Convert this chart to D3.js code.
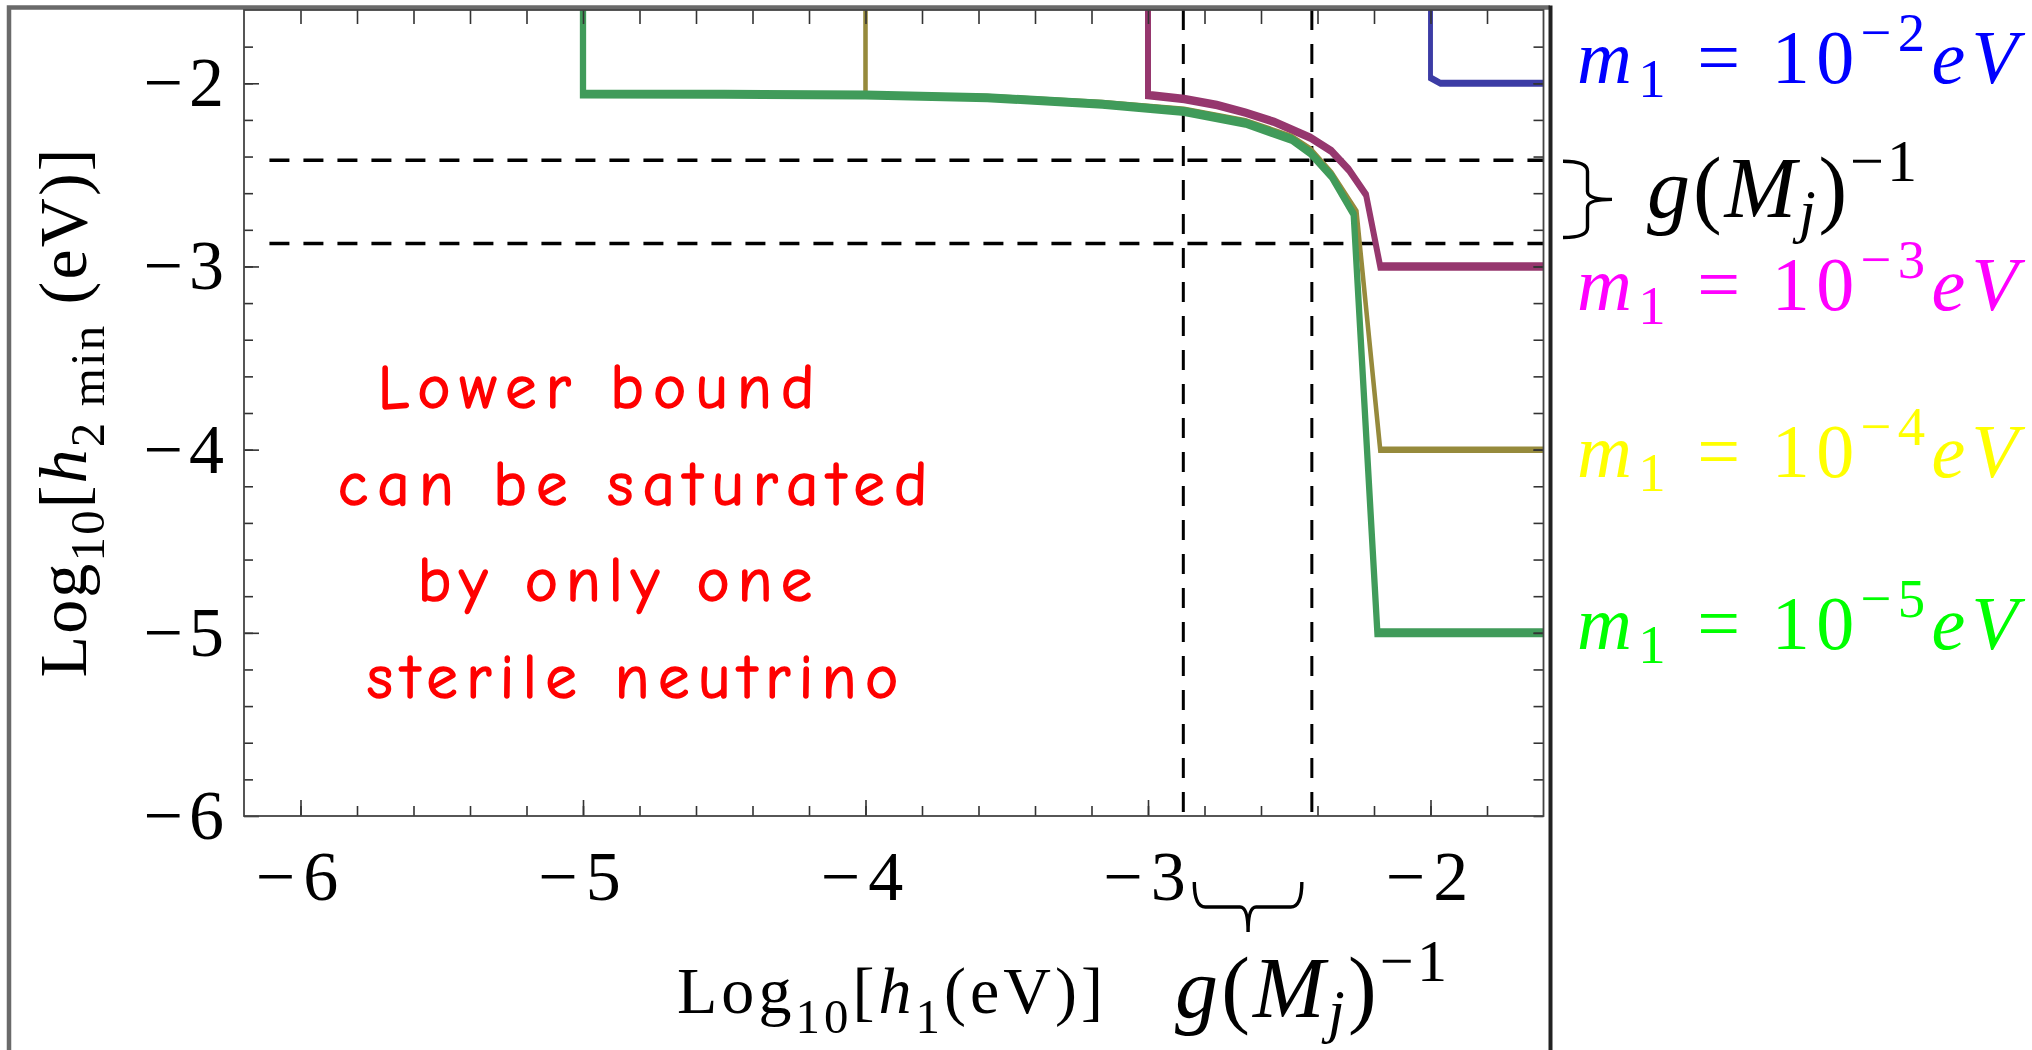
<!DOCTYPE html>
<html><head><meta charset="utf-8">
<script src="https://cdn.jsdelivr.net/npm/d3@7"></script>
<style>
html,body{margin:0;padding:0;background:#fff;}
svg{display:block;}
text{white-space:pre;}
</style></head>
<body><svg id="chart" width="2032" height="1050"></svg>
<script>
// ---------------- data ----------------
const xDomain = [-6.2, -1.6];
const yDomain = [-6, -1.6];
const xMajorTicks = [-6, -5, -4, -3, -2];
const yMajorTicks = [-6, -5, -4, -3, -2];
const xMinorTicks = [-6.0,-5.8,-5.6,-5.4,-5.2,-5.0,-4.8,-4.6,-4.4,-4.2,-4.0,-3.8,-3.6,-3.4,-3.2,-3.0,-2.8,-2.6,-2.4,-2.2,-2.0,-1.8];
const yMinorTicks = [-5.8,-5.6,-5.4,-5.2,-5.0,-4.8,-4.6,-4.4,-4.2,-4.0,-3.8,-3.6,-3.4,-3.2,-3.0,-2.8,-2.6,-2.4,-2.2,-2.0,-1.8];

const massExponents = ["−2", "−3", "−4", "−5"];
const seriesColors = ["#3c3ca5", "#96376e", "#968a3c", "#409b5a"];
const labelColors  = ["#0000ff", "#ff00ff", "#ffff00", "#00ff00"];

// m1 = 1e-2 eV
const blueX = [-2, -2, -1.965, -1.6];
const blueY = [-1.6, -1.97, -2.0, -2.0];
// m1 = 1e-3 eV
const purpleX = [-3, -3, -2.872, -2.756, -2.655, -2.553, -2.425, -2.35, -2.289, -2.228, -2.178, -1.6];
const purpleY = [-1.6, -2.064, -2.086, -2.119, -2.16, -2.211, -2.297, -2.371, -2.472, -2.609, -3.0, -3.0];
// m1 = 1e-4 eV
const oliveX = [-4, -4, -3.569, -3.162, -2.872, -2.655, -2.492, -2.425, -2.35, -2.262, -2.178, -1.6];
const oliveY = [-1.6, -2.062, -2.075, -2.107, -2.145, -2.207, -2.292, -2.361, -2.49, -2.70, -4.0, -4.0];
// m1 = 1e-5 eV
const greenX = [-5, -5, -4.5, -4.0, -3.569, -3.162, -2.872, -2.655, -2.492, -2.425, -2.35, -2.272, -2.188, -1.6];
const greenY = [-1.6, -2.058, -2.06, -2.064, -2.079, -2.114, -2.154, -2.218, -2.306, -2.38, -2.508, -2.715, -5.0, -5.0];

// g(M_j)^-1 band (log10 eV)
const gBand = [-2.875, -2.42];
const gBandStartX = -6.11;

const noteLines = ["Lower bound", "can be saturated", "by only one", "sterile neutrino"];

// ---------------- layout ----------------
const L = 244, R = 1543.5, T = 10, B = 816;
const svg = d3.select("#chart");
const x = d3.scaleLinear().domain(xDomain).range([L, R]);
const y = d3.scaleLinear().domain(yDomain).range([B, T]);

const serif = "'Liberation Serif','Times New Roman',Times,serif";

// outer frame
svg.append("path").attr("d", `M9,1050 V7.5 H1550`).attr("fill","none")
  .attr("stroke","#6a6a6a").attr("stroke-width",4.5);
svg.append("path").attr("d", `M1550.5,5.5 V1050`).attr("fill","none")
  .attr("stroke","#222").attr("stroke-width",4);

// clip
svg.append("clipPath").attr("id","plotclip").append("rect")
  .attr("x",L).attr("y",T).attr("width",R-L).attr("height",B-T);

// dashed reference lines
const dash = svg.append("g").attr("clip-path","url(#plotclip)")
  .attr("stroke","#000").attr("stroke-dasharray","20,14").attr("fill","none");
gBand.forEach(v => {
  dash.append("line").attr("x1", x(gBandStartX)).attr("x2", x(xDomain[1])).attr("y1", y(v)).attr("y2", y(v)).attr("stroke-width",3.6);
  dash.append("line").attr("x1", x(v)).attr("x2", x(v)).attr("y1", y(yDomain[1])).attr("y2", y(yDomain[0])).attr("stroke-width",3);
});

// curves (horizontal strokes a bit heavier than vertical ones, as in the original)
const sx = 0.7;
const zip = (a,b) => a.map((v,i)=>[v,b[i]]);
const series = [zip(blueX,blueY), zip(purpleX,purpleY), zip(oliveX,oliveY), zip(greenX,greenY)];
const widths = [7, 8.5, 6.5, 9];
const line = d3.line().x(d=>x(d[0])/sx).y(d=>y(d[1]));
const curves = svg.append("g").attr("clip-path","url(#plotclip)")
  .append("g").attr("transform",`scale(${sx},1)`);
series.forEach((s,i)=>{
  curves.append("path").attr("d", line(s)).attr("fill","none")
    .attr("stroke", seriesColors[i]).attr("stroke-width", widths[i])
    .attr("stroke-linejoin","miter");
});

// axes
function styleAxis(g){
  g.select(".domain").remove();
  g.selectAll(".tick line").attr("stroke","#333").attr("stroke-width",1.6);
  g.selectAll(".tick text").attr("font-family",serif).attr("fill","#000");
}
svg.append("g").attr("transform",`translate(0,${B})`)
  .call(d3.axisBottom(x).tickValues(xMinorTicks).tickSizeInner(-10).tickSizeOuter(0).tickFormat(""))
  .call(styleAxis);
svg.append("g").attr("transform",`translate(0,${B})`)
  .call(d3.axisBottom(x).tickValues(xMajorTicks).tickSizeInner(-16).tickSizeOuter(0).tickPadding(34).tickFormat(d3.format("d")))
  .call(styleAxis)
  .call(g=>g.selectAll(".tick text").attr("font-size",70).attr("letter-spacing","8px"));
svg.append("g").attr("transform",`translate(0,${T})`)
  .call(d3.axisTop(x).tickValues(xMinorTicks).tickSizeInner(-14).tickSizeOuter(0).tickFormat(""))
  .call(styleAxis);
svg.append("g").attr("transform",`translate(${L},0)`)
  .call(d3.axisLeft(y).tickValues(yMinorTicks).tickSizeInner(-9).tickSizeOuter(0).tickFormat(""))
  .call(styleAxis);
svg.append("g").attr("transform",`translate(${L},0)`)
  .call(d3.axisLeft(y).tickValues(yMajorTicks).tickSizeInner(-15).tickSizeOuter(0).tickPadding(14).tickFormat(d3.format("d")))
  .call(styleAxis)
  .call(g=>g.selectAll(".tick text").attr("font-size",70).attr("letter-spacing","6px"));
svg.append("g").attr("transform",`translate(${R},0)`)
  .call(d3.axisRight(y).tickValues(yMinorTicks.concat(yMajorTicks)).tickSizeInner(-10).tickSizeOuter(0).tickFormat(""))
  .call(styleAxis);

// plot frame
svg.append("rect").attr("x",L).attr("y",T).attr("width",R-L).attr("height",B-T)
  .attr("fill","none").attr("stroke","#444").attr("stroke-width",1.8);

// axis titles
function addPieces(t, pieces, base){
  let cur = 0;
  pieces.forEach(p=>{
    const ts = t.append("tspan").text(p.s);
    const shift = p.shift || 0;
    if (shift !== cur) { ts.attr("dy", shift - cur); cur = shift; }
    if (p.italic) ts.attr("font-style","italic");
    if (p.scale) ts.attr("font-size", base*p.scale);
  });
}
const xt = svg.append("text").attr("x",677).attr("y",1013).attr("font-family",serif)
  .attr("font-size",66).attr("textLength",426).attr("lengthAdjust","spacing");
addPieces(xt, [{s:"Log"},{s:"10",shift:20,scale:0.74},{s:"["},{s:"h",italic:true},{s:"1",shift:20,scale:0.74},{s:"(eV)]"}], 66);

const yt = svg.append("text").attr("transform",`translate(86,${(T+B)/2}) rotate(-90)`)
  .attr("text-anchor","middle").attr("font-family",serif)
  .attr("font-size",68).attr("textLength",529).attr("lengthAdjust","spacing");
addPieces(yt, [{s:"Log"},{s:"10",shift:18,scale:0.72},{s:"["},{s:"h",italic:true},{s:"2 min",shift:18,scale:0.72},{s:" (eV)]"}], 68);

// red note
const noteBase = [408, 505, 601, 698];
const noteX = [378, 338, 418, 367];
const noteW = [436, 589, 394, 531];
noteLines.forEach((s,i)=>{
  svg.append("text").attr("x",noteX[i]).attr("y",noteBase[i])
    .attr("font-family","'Comic Sans MS','Comic Neue','DejaVu Sans',sans-serif")
    .attr("font-size",62).attr("fill","#ff0000").attr("stroke","#ff0000").attr("stroke-width",1.6)
    .attr("stroke-linejoin","round")
    .attr("textLength",noteW[i]).attr("lengthAdjust","spacing").text(s);
});

// legend labels m1 = 10^-k eV beside each series' plateau
const legendBase = [83, 310, 477, 649];
massExponents.forEach((e,i)=>{
  const t = svg.append("text").attr("x",1577).attr("y",legendBase[i]).attr("font-family",serif)
    .attr("font-size",76).attr("fill",labelColors[i]).attr("textLength",441).attr("lengthAdjust","spacing");
  addPieces(t, [{s:"m",italic:true},{s:"1",shift:14,scale:0.72},{s:" = 10"},{s:e,shift:-32,scale:0.72},{s:"eV",italic:true}], 76);
});

// g(Mj)^-1 labels
function gLabel(x0, yb, w){
  const t = svg.append("text").attr("x",x0).attr("y",yb).attr("font-family",serif)
    .attr("font-size",86).attr("fill","#000").attr("textLength",w).attr("lengthAdjust","spacing");
  addPieces(t, [{s:"g",italic:true},{s:"("},{s:"M",italic:true},{s:"j",italic:true,shift:14,scale:0.7},{s:")"},{s:"−1",shift:-36,scale:0.7}], 86);
}
gLabel(1647, 217, 270);
gLabel(1175, 1017, 272);

// braces spanning the g band
function rightBrace(x0, y1, y2, w){
  const ym=(y1+y2)/2, xm=x0+w*0.5, xt=x0+w;
  return `M${x0},${y1} Q${xm},${y1} ${xm},${y1+10} L${xm},${ym-8} Q${xm},${ym} ${xt},${ym} Q${xm},${ym} ${xm},${ym+8} L${xm},${y2-10} Q${xm},${y2} ${x0},${y2}`;
}
function downBrace(x1, x2, y0, h){
  const xm=(x1+x2)/2, yb=y0+h*0.5, ytp=y0+h;
  return `M${x1},${y0} Q${x1},${yb} ${x1+11},${yb} L${xm-8},${yb} Q${xm},${yb} ${xm},${ytp} Q${xm},${yb} ${xm+8},${yb} L${x2-11},${yb} Q${x2},${yb} ${x2},${y0}`;
}
svg.append("path").attr("d", rightBrace(1563, y(gBand[1])+1, y(gBand[0])-6, 49))
  .attr("fill","none").attr("stroke","#000").attr("stroke-width",3.4);
svg.append("path").attr("d", downBrace(x(gBand[0])+11, x(gBand[1])-10, 882, 50))
  .attr("fill","none").attr("stroke","#000").attr("stroke-width",3.4);
</script>
</body></html>
